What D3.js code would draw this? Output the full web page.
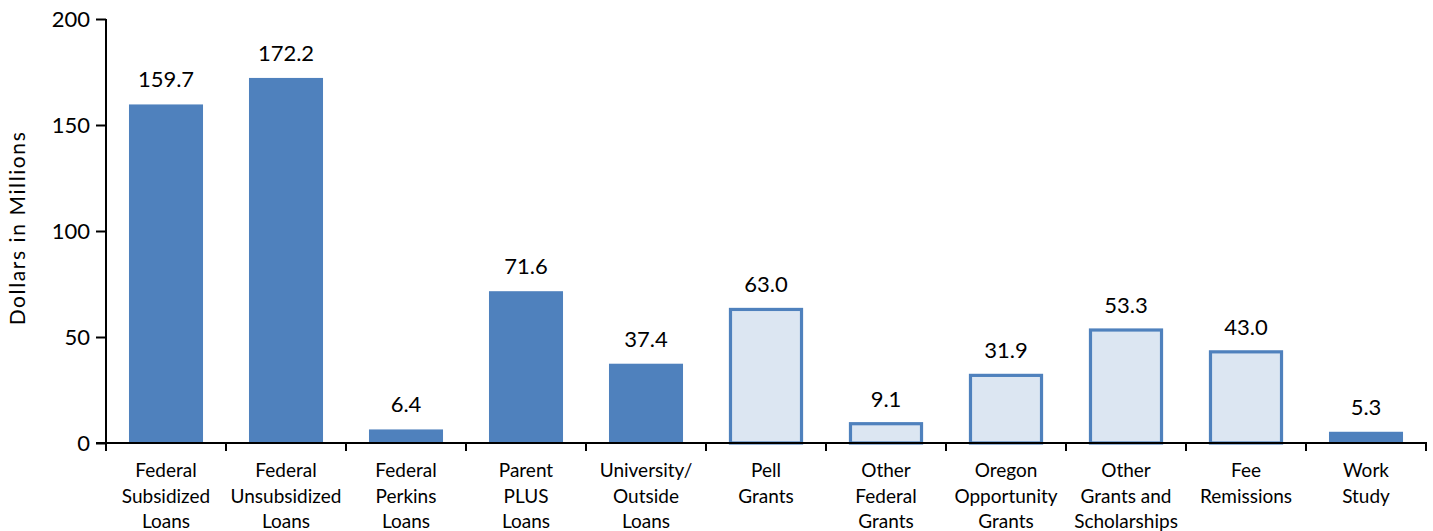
<!DOCTYPE html>
<html><head><meta charset="utf-8">
<script src="https://cdn.jsdelivr.net/npm/d3@7"></script>
<style>body{margin:0;background:#fff}svg{display:block}text{font-family:Lato,"Open Sans",sans-serif;fill:#000}</style>
</head><body>
<svg id="c" width="1433" height="531"></svg>
<script>
const categories = [
  ["Federal","Subsidized","Loans"],
  ["Federal","Unsubsidized","Loans"],
  ["Federal","Perkins","Loans"],
  ["Parent","PLUS","Loans"],
  ["University/","Outside","Loans"],
  ["Pell","Grants"],
  ["Other","Federal","Grants"],
  ["Oregon","Opportunity","Grants"],
  ["Other","Grants and","Scholarships"],
  ["Fee","Remissions"],
  ["Work","Study"]
];
const values = [159.7, 172.2, 6.4, 71.6, 37.4, 63.0, 9.1, 31.9, 53.3, 43.0, 5.3];
const barType = ["loan","loan","loan","loan","loan","grant","grant","grant","grant","grant","loan"];
const yTicks = [0, 50, 100, 150, 200];

const svg = d3.select("#c");
const mLeft = 106, mRight = 1426, mTop = 19, mBottom = 443;
const keys = categories.map((d,i)=>i);
const x = d3.scaleBand().domain(keys).range([mLeft, mRight]).paddingInner(0.383).paddingOuter(0.1915);
const y = d3.scaleLinear().domain([0, 200]).range([mBottom, mTop]);

// bars
const g = svg.append("g");
g.selectAll("rect").data(values).join("rect")
  .attr("x", (d,i)=> barType[i]==="grant" ? x(i)+1.5 : x(i))
  .attr("width", (d,i)=> barType[i]==="grant" ? x.bandwidth()-3 : x.bandwidth())
  .attr("y", d=> y(d))
  .attr("height", d=> mBottom - y(d))
  .attr("fill", (d,i)=> barType[i]==="grant" ? "#DCE6F2" : "#4F81BD")
  .attr("stroke", (d,i)=> barType[i]==="grant" ? "#4F81BD" : "none")
  .attr("stroke-width", 3.2);

// value labels
svg.append("g").selectAll("text").data(values).join("text")
  .attr("x", (d,i)=> x(i)+x.bandwidth()/2)
  .attr("y", d=> y(d)-17)
  .attr("text-anchor","middle")
  .style("font-size","22px")
  .text(d=> d.toFixed(1));

// y axis
const yAxis = d3.axisLeft(y).tickValues(yTicks).tickSize(10).tickPadding(6);
const ya = svg.append("g").attr("transform", `translate(${mLeft},0)`).call(yAxis);
ya.select(".domain").attr("stroke","#000").attr("stroke-width",2).attr("d", `M0,${mTop}V${mBottom}`);
ya.selectAll(".tick line").attr("stroke","#000").attr("stroke-width",2);
ya.selectAll(".tick text").style("font-size","22px").style("font-family","Lato").attr("fill","#000").attr("dy","0.36em");

// x axis
const xa = svg.append("g").attr("transform", `translate(0,${mBottom})`);
xa.append("line").attr("x1", mLeft-10).attr("x2", mRight+1).attr("y1",0).attr("y2",0).attr("stroke","#000").attr("stroke-width",2);
const xt = d3.range(categories.length+1).map(i=> mLeft + i*(mRight-mLeft)/categories.length);
xa.selectAll("line.t").data(xt).join("line").attr("class","t")
  .attr("x1", d=>d).attr("x2", d=>d).attr("y1",0).attr("y2",8)
  .attr("stroke","#000").attr("stroke-width",2);
const lab = xa.selectAll("text.c").data(categories).join("text").attr("class","c")
  .attr("text-anchor","middle")
  .style("font-size","19px");
lab.each(function(lines,i){
  const t = d3.select(this);
  lines.forEach((l,j)=> t.append("tspan").attr("x", x(i)+x.bandwidth()/2).attr("y", 34 + j*25.5).text(l));
});

// y title
svg.append("text")
  .attr("transform", `translate(25,228) rotate(-90)`)
  .attr("text-anchor","middle")
  .style("font-size","21px")
  .style("letter-spacing","1.6px")
  .text("Dollars in Millions");
</script>
</body></html>
